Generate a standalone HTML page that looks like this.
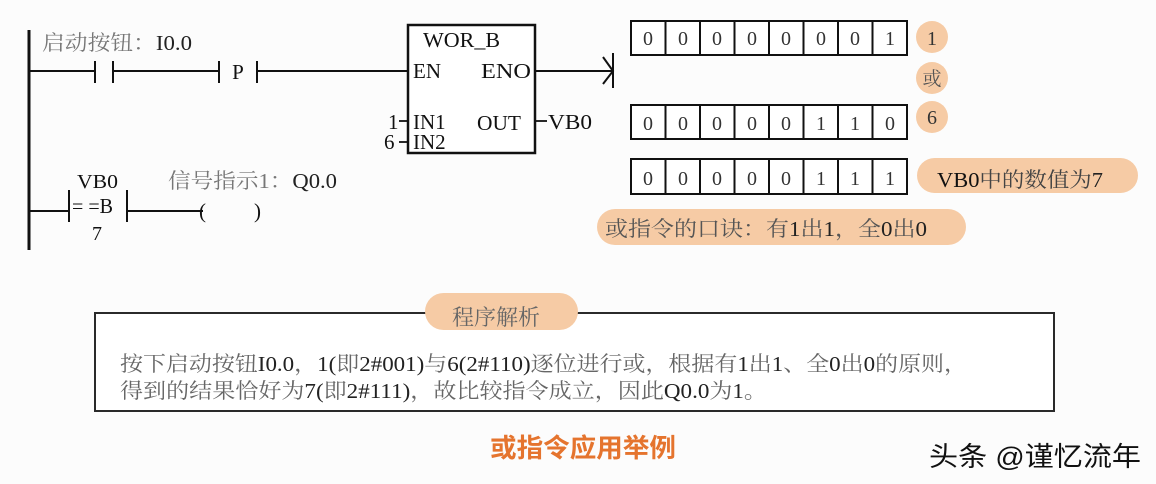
<!DOCTYPE html>
<html><head><meta charset="utf-8"><style>
html,body{margin:0;padding:0;background:#fcfcfc;}
svg{display:block;}
.s{font-family:"Liberation Serif","Noto Serif CJK SC",serif;}
.k{font-family:"Liberation Sans","Noto Sans CJK SC",sans-serif;}
</style></head><body>
<svg width="1156" height="484" viewBox="0 0 1156 484" xmlns="http://www.w3.org/2000/svg">
<rect width="1156" height="484" fill="#fcfcfc"/>

<!-- Ladder rail -->
<line x1="29" y1="30" x2="29" y2="250" stroke="#111" stroke-width="3"/>

<!-- Rung 1 -->
<text class="s" x="42" y="50" font-size="21" fill="#777" textLength="150" lengthAdjust="spacingAndGlyphs">启动按钮：<tspan fill="#222">I0.0</tspan></text>
<g stroke="#111" stroke-width="2" fill="none">
  <line x1="29" y1="71" x2="95" y2="71"/>
  <line x1="95" y1="61" x2="95" y2="83"/>
  <line x1="113" y1="61" x2="113" y2="83"/>
  <line x1="113" y1="71" x2="219" y2="71"/>
  <line x1="219" y1="61" x2="219" y2="83"/>
  <line x1="257" y1="61" x2="257" y2="83"/>
  <line x1="257" y1="71" x2="408" y2="71"/>
</g>
<text class="s" x="238" y="79" font-size="21" fill="#111" text-anchor="middle">P</text>

<!-- Block -->
<rect x="408" y="25" width="127" height="128" fill="#fff" stroke="#111" stroke-width="2.5"/>
<text class="s" x="423" y="47" font-size="21" fill="#111" textLength="77" lengthAdjust="spacingAndGlyphs">WOR_B</text>
<text class="s" x="413" y="78" font-size="21" fill="#111">EN</text>
<text class="s" x="481" y="78" font-size="21" fill="#111" textLength="50" lengthAdjust="spacingAndGlyphs">ENO</text>
<text class="s" x="413" y="129" font-size="21" fill="#111">IN1</text>
<text class="s" x="413" y="149" font-size="21" fill="#111">IN2</text>
<text class="s" x="477" y="130" font-size="21" fill="#111" textLength="44" lengthAdjust="spacingAndGlyphs">OUT</text>
<text class="s" x="388" y="129" font-size="21" fill="#111">1</text>
<text class="s" x="384" y="149" font-size="21" fill="#111">6</text>
<g stroke="#111" stroke-width="1.8">
  <line x1="399" y1="121" x2="408" y2="121"/>
  <line x1="399" y1="142" x2="408" y2="142"/>
  <line x1="536" y1="121" x2="547" y2="121"/>
</g>
<text class="s" x="548" y="129" font-size="21" fill="#111" textLength="44" lengthAdjust="spacingAndGlyphs">VB0</text>

<!-- ENO output -->
<g stroke="#111" stroke-width="2" fill="none">
  <line x1="535" y1="71" x2="613" y2="71"/>
  <polyline points="603,57 613,71 603,84"/>
  <line x1="613" y1="53" x2="613" y2="88"/>
</g>

<!-- Rung 2 -->
<text class="s" x="77" y="188" font-size="20" fill="#111" textLength="41" lengthAdjust="spacingAndGlyphs">VB0</text>
<text class="s" x="168" y="188" font-size="21" fill="#777" textLength="169" lengthAdjust="spacingAndGlyphs">信号指示1：<tspan fill="#222">Q0.0</tspan></text>
<g stroke="#111" stroke-width="2" fill="none">
  <line x1="29" y1="211" x2="69" y2="211"/>
  <line x1="69" y1="190" x2="69" y2="222"/>
  <line x1="127" y1="190" x2="127" y2="222"/>
  <line x1="127" y1="211" x2="203" y2="211"/>
</g>
<text class="s" x="72" y="213" font-size="21" fill="#111" textLength="41" lengthAdjust="spacingAndGlyphs">= =B</text>
<text class="s" x="92" y="240" font-size="20" fill="#111">7</text>
<text class="s" x="199" y="218" font-size="21" fill="#111">(</text>
<text class="s" x="254" y="218" font-size="21" fill="#111">)</text>

<!-- Bit rows -->
<g stroke="#111" stroke-width="2" fill="#fff">
  <rect x="631" y="21" width="276" height="34"/>
  <rect x="631" y="105" width="276" height="34"/>
  <rect x="631" y="159" width="276" height="35"/>
</g>
<g stroke="#111" stroke-width="2">
  <line x1="665.5" y1="21" x2="665.5" y2="55"/><line x1="700" y1="21" x2="700" y2="55"/><line x1="734.5" y1="21" x2="734.5" y2="55"/><line x1="769" y1="21" x2="769" y2="55"/><line x1="803.5" y1="21" x2="803.5" y2="55"/><line x1="838" y1="21" x2="838" y2="55"/><line x1="872.5" y1="21" x2="872.5" y2="55"/>
  <line x1="665.5" y1="105" x2="665.5" y2="139"/><line x1="700" y1="105" x2="700" y2="139"/><line x1="734.5" y1="105" x2="734.5" y2="139"/><line x1="769" y1="105" x2="769" y2="139"/><line x1="803.5" y1="105" x2="803.5" y2="139"/><line x1="838" y1="105" x2="838" y2="139"/><line x1="872.5" y1="105" x2="872.5" y2="139"/>
  <line x1="665.5" y1="159" x2="665.5" y2="194"/><line x1="700" y1="159" x2="700" y2="194"/><line x1="734.5" y1="159" x2="734.5" y2="194"/><line x1="769" y1="159" x2="769" y2="194"/><line x1="803.5" y1="159" x2="803.5" y2="194"/><line x1="838" y1="159" x2="838" y2="194"/><line x1="872.5" y1="159" x2="872.5" y2="194"/>
</g>
<g class="s" font-size="20" fill="#333" text-anchor="middle">
  <text x="648" y="45">0</text><text x="683" y="45">0</text><text x="717" y="45">0</text><text x="752" y="45">0</text><text x="786" y="45">0</text><text x="821" y="45">0</text><text x="855" y="45">0</text><text x="890" y="45">1</text>
  <text x="648" y="130">0</text><text x="683" y="130">0</text><text x="717" y="130">0</text><text x="752" y="130">0</text><text x="786" y="130">0</text><text x="821" y="130">1</text><text x="855" y="130">1</text><text x="890" y="130">0</text>
  <text x="648" y="185">0</text><text x="683" y="185">0</text><text x="717" y="185">0</text><text x="752" y="185">0</text><text x="786" y="185">0</text><text x="821" y="185">1</text><text x="855" y="185">1</text><text x="890" y="185">1</text>
</g>

<!-- Peach circles -->
<g fill="#f6cba5">
  <circle cx="932" cy="37" r="16"/>
  <circle cx="932" cy="78" r="16"/>
  <circle cx="932" cy="117" r="16"/>
</g>
<text class="s" x="932" y="45" font-size="20" fill="#333" text-anchor="middle">1</text>
<text class="s" x="932" y="85" font-size="19" fill="#555" text-anchor="middle">或</text>
<text class="s" x="932" y="124" font-size="20" fill="#333" text-anchor="middle">6</text>

<!-- VB0 pill -->
<rect x="917" y="158" width="221" height="35" rx="17.5" fill="#f6cba5"/>
<text class="s" x="937" y="187" font-size="21" fill="#444" textLength="166" lengthAdjust="spacingAndGlyphs"><tspan fill="#111">VB0</tspan>中的数值为<tspan fill="#222">7</tspan></text>

<!-- Mnemonic pill -->
<rect x="597" y="209" width="369" height="36" rx="18" fill="#f6cba5"/>
<text class="s" x="605" y="236" font-size="21" fill="#555" textLength="322" lengthAdjust="spacingAndGlyphs">或指令的口诀：有<tspan fill="#222">1</tspan>出<tspan fill="#222">1</tspan>，全<tspan fill="#222">0</tspan>出<tspan fill="#222">0</tspan></text>

<!-- Program analysis box -->
<rect x="95" y="313" width="959" height="98" fill="#fff" stroke="#2a2a2a" stroke-width="2"/>
<rect x="425" y="293" width="153" height="37" rx="18.5" fill="#f6cba5"/>
<text class="s" x="452" y="325" font-size="22" fill="#666" textLength="88" lengthAdjust="spacingAndGlyphs">程序解析</text>
<text class="s" x="120" y="371" font-size="21" fill="#666" textLength="847" lengthAdjust="spacingAndGlyphs">按下启动按钮<tspan fill="#222">I0.0</tspan>，<tspan fill="#222">1(</tspan>即<tspan fill="#222">2#001)</tspan>与<tspan fill="#222">6(2#110)</tspan>逐位进行或，根据有<tspan fill="#222">1</tspan>出<tspan fill="#222">1</tspan>、全<tspan fill="#222">0</tspan>出<tspan fill="#222">0</tspan>的原则，</text>
<text class="s" x="120" y="398" font-size="21" fill="#666" textLength="647" lengthAdjust="spacingAndGlyphs">得到的结果恰好为<tspan fill="#222">7(</tspan>即<tspan fill="#222">2#111)</tspan>，故比较指令成立，因此<tspan fill="#222">Q0.0</tspan>为<tspan fill="#222">1</tspan>。</text>

<!-- Title -->
<text class="k" x="490" y="457" font-size="26" font-weight="bold" fill="#e5742e" textLength="186" lengthAdjust="spacingAndGlyphs">或指令应用举例</text>

<!-- Watermark -->
<text class="k" x="929" y="466" font-size="27" fill="#111" textLength="212" lengthAdjust="spacingAndGlyphs">头条 @谨忆流年</text>
</svg>
</body></html>
